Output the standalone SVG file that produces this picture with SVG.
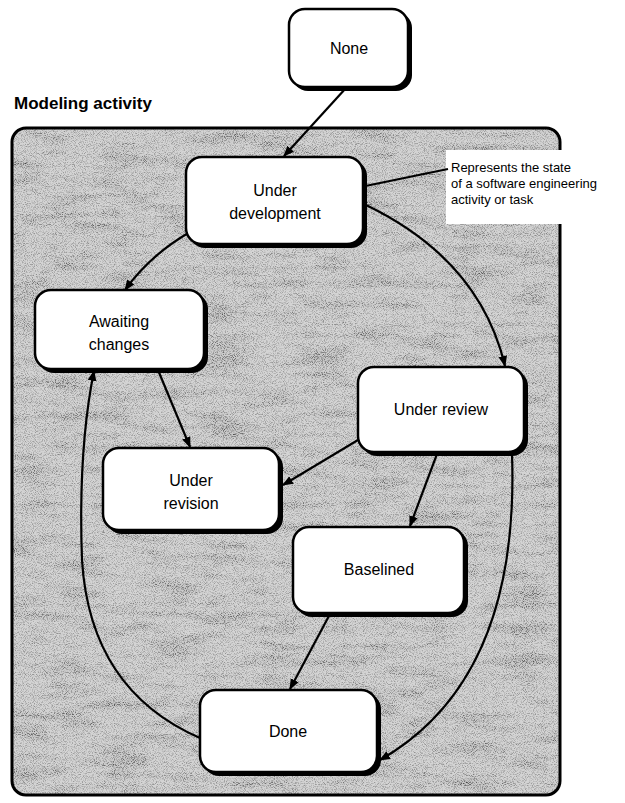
<svg xmlns="http://www.w3.org/2000/svg" width="625" height="803" viewBox="0 0 625 803">
  <style>
    .box { fill: #ffffff; stroke: #000000; stroke-width: 2.5; }
    .shadow { fill: #000000; }
    .lbl { font-family: "Liberation Sans", Arial, sans-serif; font-size: 16px; fill: #000000; text-anchor: middle; }
    .note { font-family: "Liberation Sans", Arial, sans-serif; font-size: 13px; fill: #000000; }
    .title { font-family: "Liberation Sans", Arial, sans-serif; font-size: 17px; font-weight: bold; fill: #000000; }
    .edge { fill: none; stroke: #000000; stroke-width: 2.2; }
  </style>
  <defs>
    <marker id="arrow" viewBox="0 0 10 10" refX="9" refY="5" markerWidth="5" markerHeight="5" orient="auto-start-reverse" markerUnits="strokeWidth">
      <path d="M0,1 L10,5 L0,9 z" fill="#000000"/>
    </marker>
    <!-- fine speckle for the halftone frame fill -->
    <filter id="grain" x="0" y="0" width="100%" height="100%">
      <feTurbulence type="fractalNoise" baseFrequency="1.1" numOctaves="1" seed="7" result="fine"/>
      <feColorMatrix in="fine" type="matrix" values="0 0 0 0 0  0 0 0 0 0  0 0 0 0 0  -3.2 0 0 0 1.75" result="dots"/>
      <feTurbulence type="fractalNoise" baseFrequency="0.02 0.09" numOctaves="3" seed="3" result="streak"/>
      <feColorMatrix in="streak" type="matrix" values="0 0 0 0 0  0 0 0 0 0  0 0 0 0 0  -2.2 0 0 0 1.2" result="shade"/>
      <feComposite in="dots" in2="shade" operator="arithmetic" k1="0.35" k2="0.3" k3="0.08" k4="0"/>
      <feComposite in2="SourceGraphic" operator="in"/>
    </filter>
  </defs>

  <!-- white page -->
  <rect x="0" y="0" width="625" height="803" fill="#ffffff"/>

  <!-- activity frame -->
  <g id="frame">
    <rect x="12" y="128" width="548" height="667" rx="14" fill="#d4d4d4"/>
    <rect x="12" y="128" width="548" height="667" rx="14" fill="#000000" filter="url(#grain)"/>
    <rect x="12" y="128" width="548" height="667" rx="14" fill="none" stroke="#000000" stroke-width="3"/>
    <!-- note area breaks the frame on the right -->
    <rect x="446" y="150" width="179" height="74" fill="#ffffff"/>
    <text class="title" x="14" y="109">Modeling activity</text>
  </g>

  <!-- connectors -->
  <g id="connectors">
    <path class="edge" d="M346,88 L284,156" marker-end="url(#arrow)"/>
    <path class="edge" d="M190,232 Q150,255 125,290" marker-end="url(#arrow)"/>
    <path class="edge" d="M366,205 Q480,260 505,366" marker-end="url(#arrow)"/>
    <path class="edge" d="M158,370 L190,447" marker-end="url(#arrow)"/>
    <path class="edge" d="M358,440 L283,485" marker-end="url(#arrow)"/>
    <path class="edge" d="M437,454 L410,526" marker-end="url(#arrow)"/>
    <path class="edge" d="M330,614 L290,689" marker-end="url(#arrow)"/>
    <path class="edge" d="M512,454 Q520,680 380,760" marker-end="url(#arrow)"/>
    <path class="edge" d="M200,738 Q90,690 82,560 Q78,450 94,371" marker-end="url(#arrow)"/>
    <!-- note leader -->
    <path class="edge" d="M346,190 L448,169"/>
  </g>

  <!-- states -->
  <g id="none">
    <rect class="shadow" x="292" y="12" width="120" height="79" rx="16"/>
    <rect class="box" x="289" y="9" width="119" height="78" rx="16"/>
    <text class="lbl" x="349" y="54">None</text>
  </g>

  <g id="under-development">
    <rect class="shadow" x="189" y="160" width="178" height="88" rx="16"/>
    <rect class="box" x="186" y="157" width="177" height="87" rx="16"/>
    <text class="lbl" x="275" y="196">Under</text>
    <text class="lbl" x="275" y="219">development</text>
  </g>

  <g id="awaiting-changes">
    <rect class="shadow" x="38" y="293" width="170" height="80" rx="16"/>
    <rect class="box" x="35" y="290" width="169" height="79" rx="16"/>
    <text class="lbl" x="119" y="327">Awaiting</text>
    <text class="lbl" x="119" y="350">changes</text>
  </g>

  <g id="under-review">
    <rect class="shadow" x="361" y="370" width="167" height="86" rx="16"/>
    <rect class="box" x="358" y="367" width="166" height="85" rx="16"/>
    <text class="lbl" x="441" y="415">Under review</text>
  </g>

  <g id="under-revision">
    <rect class="shadow" x="106" y="451" width="177" height="83" rx="16"/>
    <rect class="box" x="103" y="448" width="176" height="82" rx="16"/>
    <text class="lbl" x="191" y="486">Under</text>
    <text class="lbl" x="191" y="509">revision</text>
  </g>

  <g id="baselined">
    <rect class="shadow" x="296" y="530" width="172" height="87" rx="16"/>
    <rect class="box" x="293" y="527" width="171" height="86" rx="16"/>
    <text class="lbl" x="379" y="575">Baselined</text>
  </g>

  <g id="done">
    <rect class="shadow" x="203" y="693" width="178" height="83" rx="16"/>
    <rect class="box" x="200" y="690" width="177" height="82" rx="16"/>
    <text class="lbl" x="288" y="737">Done</text>
  </g>

  <g id="note">
    <text class="note" x="451" y="172">Represents the state</text>
    <text class="note" x="451" y="188">of a software engineering</text>
    <text class="note" x="451" y="204">activity or task</text>
  </g>
</svg>
